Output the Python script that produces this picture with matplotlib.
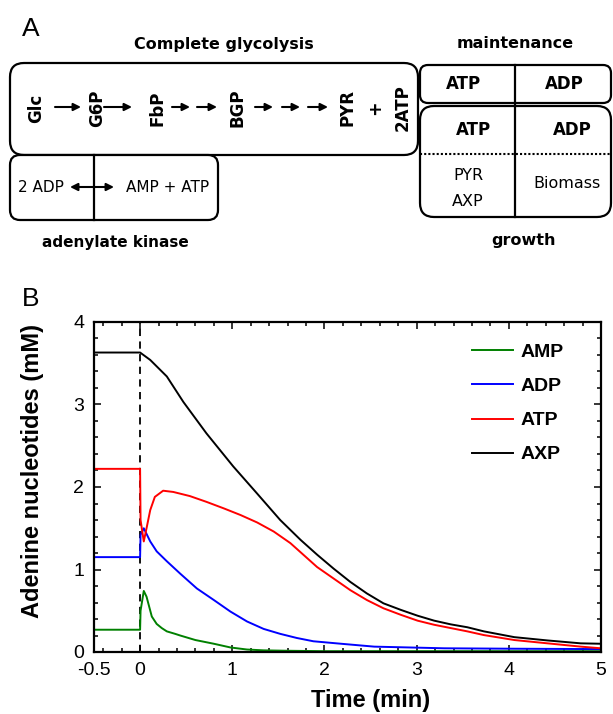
import matplotlib
matplotlib.use("Agg")
import matplotlib.pyplot as plt
from matplotlib.patches import FancyBboxPatch
from matplotlib.ticker import MultipleLocator, FixedLocator

# ---- panel B data ----
t_amp = [-0.5, 0, 0.005, 0.04, 0.07, 0.127, 0.18, 0.235, 0.29, 0.38, 0.435,
         0.6, 0.8, 0.98, 1.16, 1.34, 1.6, 2.0, 3.0, 5.0]
amp = [0.27, 0.27, 0.5, 0.74, 0.67, 0.43, 0.34, 0.29, 0.25, 0.22, 0.20,
       0.145, 0.10, 0.055, 0.03, 0.02, 0.015, 0.01, 0.01, 0.01]

t_adp = [-0.5, 0, 0.005, 0.04, 0.11, 0.18, 0.29, 0.435, 0.616, 0.80, 0.98,
         1.16, 1.34, 1.52, 1.70, 1.88, 2.18, 2.54, 3.3, 4.0, 5.0]
adp = [1.15, 1.15, 1.42, 1.50, 1.34, 1.22, 1.10, 0.95, 0.77, 0.63, 0.49,
       0.37, 0.28, 0.22, 0.17, 0.13, 0.10, 0.065, 0.045, 0.04, 0.035]

t_atp = [-0.5, 0, 0.005, 0.04, 0.07, 0.11, 0.16, 0.25, 0.36, 0.54, 0.72,
         0.91, 1.09, 1.27, 1.45, 1.63, 1.74, 1.92, 2.10, 2.28, 2.46, 2.64,
         2.83, 3.01, 3.19, 3.37, 3.55, 3.73, 4.06, 4.42, 4.78, 5.0]
atp = [2.22, 2.22, 1.6, 1.34, 1.50, 1.72, 1.88, 1.955, 1.94, 1.89, 1.82,
       1.74, 1.66, 1.57, 1.46, 1.32, 1.21, 1.03, 0.89, 0.75, 0.63, 0.53,
       0.45, 0.38, 0.33, 0.29, 0.25, 0.205, 0.145, 0.105, 0.065, 0.045]

t_axp = [-0.5, 0, 0.11, 0.29, 0.47, 0.72, 1.01, 1.27, 1.52, 1.74, 1.92,
         2.10, 2.28, 2.46, 2.64, 2.83, 3.01, 3.19, 3.37, 3.55, 3.73, 4.06,
         4.42, 4.78, 5.0]
axp = [3.63, 3.63, 3.54, 3.34, 3.03, 2.65, 2.25, 1.92, 1.60, 1.36, 1.18,
       1.01, 0.85, 0.71, 0.59, 0.51, 0.44, 0.38, 0.335, 0.30, 0.25, 0.18,
       0.14, 0.105, 0.10]

series_names = ["AMP", "ADP", "ATP", "AXP"]
x_ticks = [-0.5, 0, 1, 2, 3, 4, 5]
x_tick_labels = ["-0.5", "0", "1", "2", "3", "4", "5"]
y_ticks = [0, 1, 2, 3, 4]

# ---- panel A labels ----
glyco_steps = ["Glc", "G6P", "FbP", "BGP", "PYR", "+", "2ATP"]
kinase_left = "2 ADP"
kinase_right = "AMP + ATP"

W, H = 613, 714
fig = plt.figure(figsize=(W / 100, H / 100), dpi=100)

# diagram layer in pixel coordinates
ax0 = fig.add_axes([0, 0, 1, 1])
ax0.set_xlim(0, W)
ax0.set_ylim(H, 0)
ax0.axis("off")

DIA = "DejaVu Sans"
ARIAL = "Liberation Sans"


def rbox(x0, y0, x1, y1, r=12):
    ax0.add_patch(FancyBboxPatch((x0, y0), x1 - x0, y1 - y0,
                                 boxstyle=f"round,pad=0,rounding_size={r}",
                                 fc="white", ec="black", lw=1.6))


def arrow(x0, x1, y, style="-|>"):
    ax0.annotate("", xy=(x1, y), xytext=(x0, y),
                 arrowprops=dict(arrowstyle=style, color="black", lw=1.5,
                                 mutation_scale=11, shrinkA=0, shrinkB=0))


ax0.text(22, 36, "A", fontsize=19, family=ARIAL, ha="left", va="baseline")

# complete glycolysis
ax0.text(224, 45, "Complete glycolysis", fontsize=11.5, family=DIA,
         weight="bold", ha="center", va="center")
rbox(10, 63, 418, 155, r=14)
step_x = [36, 97, 157, 238, 347, 375, 403]
for lab, sx in zip(glyco_steps, step_x):
    ax0.text(sx, 108, lab, fontsize=12 if lab != "+" else 12.5, family=DIA,
             weight="bold", rotation=90, ha="center", va="center")
for a, b in [(55, 81), (104, 132), (172, 190), (197, 217),
             (255, 273), (282, 300), (308, 328)]:
    arrow(a, b, 107)

# adenylate kinase
rbox(10, 155, 218, 220, r=10)
ax0.plot([94, 94], [155, 220], color="black", lw=1.6)
ax0.text(18, 187, kinase_left, fontsize=11, family=DIA, ha="left",
         va="center")
arrow(70, 114, 187, style="<|-|>")
ax0.text(168, 187, kinase_right, fontsize=11, family=DIA, ha="center",
         va="center")
ax0.text(115, 243, "adenylate kinase", fontsize=11, family=DIA,
         weight="bold", ha="center", va="center")

# maintenance / growth
ax0.text(515, 43, "maintenance", fontsize=11.5, family=DIA, weight="bold",
         ha="center", va="center")
rbox(420, 65, 611, 103, r=8)
rbox(420, 106, 611, 217, r=14)
ax0.plot([515, 515], [65, 217], color="black", lw=1.6)
ax0.plot([420, 611], [154, 154], color="black", lw=1.5, ls=(0, (1, 1)))
ax0.text(463, 84, "ATP", fontsize=12, family=DIA, weight="bold",
         ha="center", va="center")
ax0.text(564, 84, "ADP", fontsize=12, family=DIA, weight="bold",
         ha="center", va="center")
ax0.text(473, 130, "ATP", fontsize=12, family=DIA, weight="bold",
         ha="center", va="center")
ax0.text(572, 130, "ADP", fontsize=12, family=DIA, weight="bold",
         ha="center", va="center")
ax0.text(468, 175, "PYR", fontsize=11.5, family=DIA, ha="center",
         va="center")
ax0.text(468, 202, "AXP", fontsize=11.5, family=DIA, ha="center",
         va="center")
ax0.text(567, 184, "Biomass", fontsize=11.5, family=DIA, ha="center",
         va="center")
ax0.text(523, 240, "growth", fontsize=11.5, family=DIA, weight="bold",
         ha="center", va="center")

ax0.text(22, 306, "B", fontsize=19, family=ARIAL, ha="left",
         va="baseline")

# ---- panel B ----
ax = fig.add_axes([94 / W, 1 - 652 / H, 507 / W, 330 / H])
lw = 1.4
ax.plot(t_amp, amp, color="#008000", lw=lw, label=series_names[0])
ax.plot(t_adp, adp, color="#0000ff", lw=lw, label=series_names[1])
ax.plot(t_atp, atp, color="#ff0000", lw=lw, label=series_names[2])
ax.plot(t_axp, axp, color="black", lw=lw, label=series_names[3])
ax.axvline(0, color="black", lw=1.3, ls=(0, (4, 3)), zorder=1)

ax.set_xlim(-0.5, 5)
ax.set_ylim(0, 4)
ax.xaxis.set_major_locator(FixedLocator(x_ticks))
ax.set_xticklabels(x_tick_labels)
ax.xaxis.set_minor_locator(MultipleLocator(0.2))
ax.set_yticks(y_ticks)
ax.yaxis.set_minor_locator(MultipleLocator(0.2))
ax.tick_params(which="both", direction="in", top=True, right=True,
               width=1.1, labelsize=14)
ax.tick_params(which="major", length=5, pad=7)
ax.tick_params(which="minor", length=3)
for lab in ax.get_xticklabels() + ax.get_yticklabels():
    lab.set_family(ARIAL)
for sp in ax.spines.values():
    sp.set_linewidth(1.6)

ax.set_xlabel("Time (min)", fontsize=17, weight="bold", family=ARIAL)
ax.set_ylabel("Adenine nucleotides (mM)", fontsize=17, weight="bold",
              family=ARIAL)
# the labels sit off-centre in the reference
ax.xaxis.set_label_coords(0.546, -0.112)
ax.yaxis.set_label_coords(-0.098, 0.548)

leg = ax.legend(loc="upper left", bbox_to_anchor=(0.745, 0.935),
                frameon=False, borderpad=0, borderaxespad=0,
                handlelength=2.1, handletextpad=0.4, labelspacing=0.85,
                prop=dict(family=ARIAL, weight="bold", size=14))

fig.savefig("out.png", dpi=100)
